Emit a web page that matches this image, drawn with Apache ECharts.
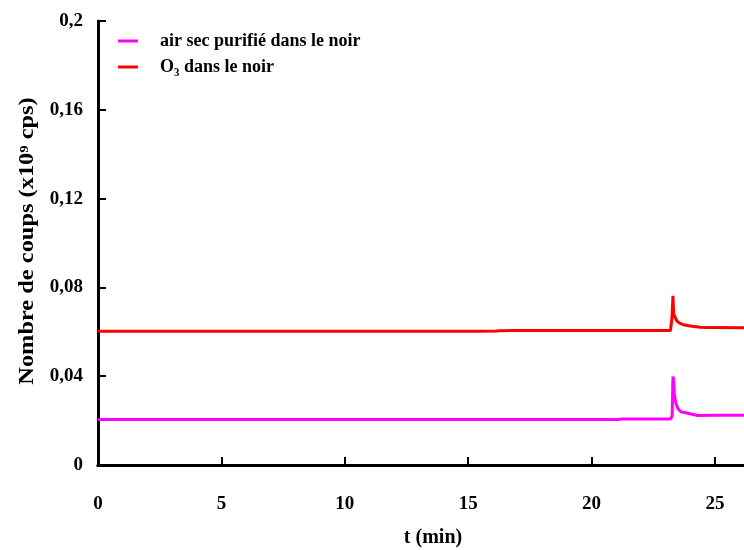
<!DOCTYPE html>
<html>
<head>
<meta charset="utf-8">
<script src="https://cdn.jsdelivr.net/npm/echarts@6/dist/echarts.min.js"></script>
<style>
  html, body { margin: 0; padding: 0; background: #fff; }
  #chart { width: 744px; height: 550px; }
</style>
</head>
<body>
<div id="chart"></div>
<script>
// temps (min) et nombre de coups (x10^9 cps)
var airTimes = [0, 5, 10, 15, 20, 21.1, 21.15, 21.2, 21.9, 21.96, 22.0, 22.3, 22.35, 22.4, 22.6, 22.65, 22.7, 23.0, 23.05, 23.1,
    23.22, 23.27, 23.3, 23.33, 23.36, 23.42, 23.5, 23.62, 23.9, 24.3, 25.0, 25.8, 25.85, 25.9, 26.2];
var airValues = [0.0205, 0.0205, 0.0205, 0.0205, 0.0205, 0.0205, 0.0209, 0.0207, 0.0207, 0.0200, 0.0207, 0.0207, 0.0201, 0.0207, 0.0207, 0.0200, 0.0207, 0.0207, 0.0201, 0.0207,
    0.0208, 0.0225, 0.0398, 0.0385, 0.0315, 0.0278, 0.0255, 0.0240, 0.0233, 0.0223, 0.0224, 0.0224, 0.0220, 0.0224, 0.0224];

var o3Times = [0, 2.05, 2.1, 2.15, 12.7, 12.76, 12.82, 14.5, 14.55, 14.6, 15.45, 15.5, 15.55, 16.15, 16.2, 16.25,
    16.85, 16.9, 16.95, 17.3, 17.38, 17.45, 17.65, 17.72, 17.8, 18.2, 18.25, 18.3,
    23.2, 23.26, 23.3, 23.33, 23.38, 23.45, 23.55, 23.72, 24.0, 24.4, 24.7, 24.9, 24.95, 25.0, 26.2];
var o3Values = [0.0603, 0.0603, 0.0608, 0.0603, 0.0603, 0.0607, 0.0603, 0.0603, 0.0607, 0.0603, 0.0603, 0.0607, 0.0603, 0.0604, 0.0608, 0.0605,
    0.0606, 0.0599, 0.0606, 0.0606, 0.0600, 0.0606, 0.0606, 0.0599, 0.0606, 0.0606, 0.0600, 0.0606,
    0.0606, 0.0660, 0.0762, 0.0680, 0.0668, 0.0650, 0.0640, 0.0632, 0.0626, 0.0621, 0.0619, 0.0619, 0.0615, 0.0619, 0.0618];

var xTicks = [0, 5, 10, 15, 20, 25];
var yTicks = [0, 0.04, 0.08, 0.12, 0.16, 0.2];

var serieNames = ['air sec purifié dans le noir', 'O₃ dans le noir'];
var yTitle = 'Nombre de coups (x10⁹ cps)';

function zip(a, b) {
    var out = [];
    for (var i = 0; i < a.length; i++) out.push([a[i], b[i]]);
    return out;
}

var font = '"Liberation Serif", "Times New Roman", serif';
var chart = echarts.init(document.getElementById('chart'), null, { renderer: 'canvas' });

var option = {
    animation: false,
    backgroundColor: '#fff',
    grid: { left: 98, right: 0, top: 21, bottom: 85, containLabel: false, outerBoundsMode: 'none' },
    legend: {
        orient: 'vertical',
        left: 118,
        top: 32,
        padding: 0,
        itemWidth: 20,
        itemHeight: 3,
        itemGap: 8,
        icon: 'rect',
        data: serieNames,
        textStyle: { fontFamily: font, fontWeight: 'bold', fontSize: 18, color: '#000', padding: [0, 0, 0, 17] }
    },
    // titre de l'axe y (étiré comme dans l'original)
    graphic: [{
        type: 'text',
        x: 28,
        y: 241,
        rotation: Math.PI / 2,
        scaleX: 1.22,
        style: {
            text: yTitle,
            font: 'bold 20px ' + font,
            fill: '#000',
            textAlign: 'center',
            textVerticalAlign: 'middle'
        }
    }],
    xAxis: [{
        type: 'value',
        min: 0,
        max: 26.18,
        interval: 5,
        name: 't (min)',
        nameLocation: 'middle',
        nameGap: 63,
        nameTextStyle: { fontFamily: font, fontWeight: 'bold', fontSize: 20, color: '#000', padding: [0, 0, 0, 24] },
        axisLine: { show: true, onZero: false, lineStyle: { color: '#000', width: 3 } },
        axisTick: { show: true, inside: true, length: 8, lineStyle: { color: '#000', width: 2 } },
        axisLabel: {
            showMaxLabel: false,
            margin: 30,
            fontFamily: font, fontWeight: 'bold', fontSize: 19, color: '#000',
            formatter: function (v) { return xTicks.indexOf(v) >= 0 ? String(v) : ''; }
        },
        splitLine: { show: false }
    }, {
        type: 'value',
        position: 'top',
        min: 0,
        max: 26.18,
        axisLine: { show: true, lineStyle: { color: '#000', width: 3 } },
        axisTick: { show: false },
        axisLabel: { show: false },
        splitLine: { show: false }
    }],
    yAxis: {
        type: 'value',
        min: 0,
        max: 0.2,
        interval: 0.04,
        axisLine: { show: true, lineStyle: { color: '#000', width: 3 } },
        axisTick: { show: true, inside: true, length: 8, lineStyle: { color: '#000', width: 2 } },
        axisLabel: {
            margin: 15,
            fontFamily: font, fontWeight: 'bold', fontSize: 19, color: '#000',
            formatter: function (v) {
                var i = Math.round(v / 0.04);
                var s = String(+yTicks[i].toFixed(2));
                return s.replace('.', ',');
            }
        },
        splitLine: { show: false }
    },
    series: [{
        name: serieNames[0],
        type: 'line',
        xAxisIndex: 0,
        showSymbol: false,
        symbol: 'none',
        color: '#ff00ff',
        lineStyle: { color: '#ff00ff', width: 3 },
        data: zip(airTimes, airValues)
    }, {
        name: serieNames[1],
        type: 'line',
        xAxisIndex: 0,
        showSymbol: false,
        symbol: 'none',
        color: '#ff0000',
        lineStyle: { color: '#ff0000', width: 3 },
        data: zip(o3Times, o3Values)
    }]
};
chart.setOption(option);
</script>
</body>
</html>
